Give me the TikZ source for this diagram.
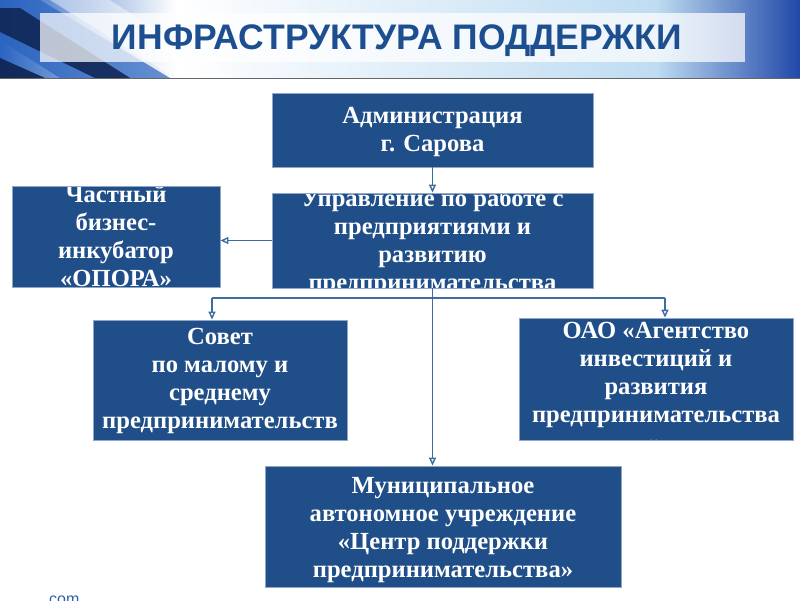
\documentclass[tikz,border=0pt]{standalone}
\usepackage{fontspec}
\setmainfont{Liberation Serif}
\newfontfamily\titlefont{Liberation Sans}
\usetikzlibrary{arrows.meta}
\definecolor{boxblue}{HTML}{1F4E88}
\definecolor{boxedge}{HTML}{8FA8C8}
\definecolor{linecol}{HTML}{3F6E9E}
\definecolor{titleblue}{HTML}{1D4E8F}
\definecolor{navy}{HTML}{0E2350}
\definecolor{midb}{HTML}{2A64C0}
\definecolor{skyb}{HTML}{2048A8}
\definecolor{palesky}{HTML}{BFDCF2}
\definecolor{footblue}{HTML}{2F63B0}
\pgfdeclarehorizontalshading{hdrshade}{100bp}{color(0bp)=(midb); color(25bp)=(midb); color(36bp)=(white); color(66bp)=(palesky); color(75bp)=(skyb); color(100bp)=(skyb)}
\begin{document}
\begin{tikzpicture}[x=1pt,y=-1pt,
  box/.style={draw=boxedge, fill=boxblue, line width=0.8pt, inner sep=0pt},
  txt/.style={text=white, font=\bfseries\fontsize{24.6}{28}\selectfont, align=center, inner sep=0pt},
  conn/.style={draw=linecol, line width=1.4pt},
  arr/.style={conn, -{Triangle[open, length=8pt, width=7pt]}}]
\useasboundingbox (0,0) rectangle (800,600);
\fill[white] (0,0) rectangle (800,600);
% header band
\shade[shading=hdrshade] (0,0) rectangle (800,78);
\fill[midb, opacity=0.7] (0,0) -- (40,0) -- (170,78) -- (60,78) -- (0,40) -- cycle;
\fill[navy, opacity=0.85] (0,8) -- (20,8) -- (130,78) -- (95,78) -- (0,32) -- cycle;
\fill[navy, opacity=0.9] (0,58) -- (0,78) -- (45,78) -- cycle;
\fill[white, opacity=0.45] (50,0) -- (110,0) -- (230,78) -- (175,78) -- cycle;
\draw[black!60, line width=1pt] (0,78.5) -- (800,78.5);
\fill[white, opacity=0.72] (40,13) rectangle (745,62);
\node[font=\titlefont\bfseries\fontsize{35.5}{36}\selectfont, text=titleblue] (title) at (397,41) {ИНФРАСТРУКТУРА ПОДДЕРЖКИ};
% boxes
\node[box, minimum width=321pt, minimum height=74pt,
  path picture={\node[txt] at ([yshift=-1.5pt]path picture bounding box.center) {Администрация\\г. Сарова};}]
  (admin) at (432.5,130) {};
\node[box, minimum width=321pt, minimum height=95pt,
  path picture={\node[txt] at ([yshift=-1.5pt]path picture bounding box.center) {Управление по работе с\\предприятиями и\\развитию\\предпринимательства};}]
  (upr) at (432.5,240.5) {};
\node[box, minimum width=208pt, minimum height=101pt,
  path picture={\node[txt] at (path picture bounding box.center) {Частный\\бизнес-\\инкубатор\\«ОПОРА»};}]
  (chast) at (116,236.5) {};
\node[box, minimum width=254pt, minimum height=120pt,
  path picture={\node[txt] at ([yshift=-0.5pt]path picture bounding box.center) {Совет\\по малому и\\среднему\\предпринимательств};}]
  (sovet) at (220,380) {};
\node[box, minimum width=274pt, minimum height=122pt,
  path picture={\node[txt] at ([yshift=-7pt]path picture bounding box.center) {ОАО «Агентство\\инвестиций и\\развития\\предпринимательства\\»};}]
  (oao) at (656,379) {};
\node[box, minimum width=356pt, minimum height=121pt,
  path picture={\node[txt] at ([yshift=-3.5pt]path picture bounding box.center) {Муниципальное\\автономное учреждение\\«Центр поддержки\\предпринимательства»};}]
  (mun) at (443,526.5) {};
% connectors
\coordinate (busL) at (212,298);
\coordinate (busR) at (665,298);
\draw[arr] (admin) -- (upr);
\draw[arr] (upr.west) -- (upr.west -| chast.east);
\draw[arr] (upr.south) -- (upr.south |- mun.north);
\draw[conn] (busL) -- (busR);
\draw[arr] (busL) -- (busL |- sovet.north);
\draw[arr] (busR) -- (busR |- oao.north);
% footer fragment
\node[anchor=base west, inner sep=0pt, text=footblue, font=\titlefont\fontsize{16}{16}\selectfont] (foot) at (49,604) {com};
\end{tikzpicture}
\end{document}
